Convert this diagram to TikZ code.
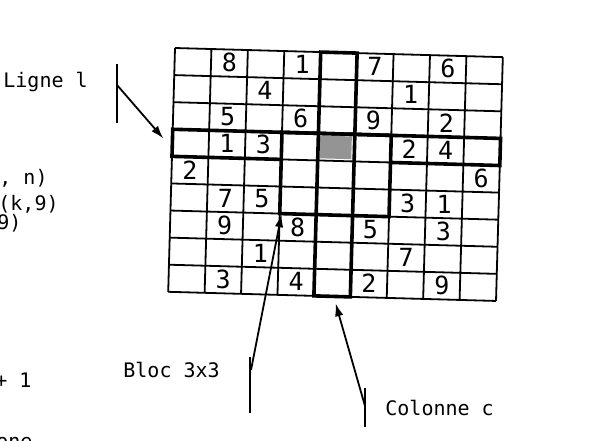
\documentclass[tikz,border=0pt]{standalone}
\usepackage{fontspec}
\setmonofont{DejaVu Sans Mono}
\usepackage{tikz}
\usetikzlibrary{positioning,arrows.meta}

\begin{document}
\begin{tikzpicture}[x=0.5pt,y=-0.5pt,
        cellline/.style={line width=0.9pt},
        boldline/.style={line width=1.8pt},
        digit/.style={font=\ttfamily\fontsize{12.5}{15}\selectfont,inner sep=0pt},
        note/.style={font=\ttfamily\fontsize{10}{12}\selectfont,anchor=base west,inner sep=0pt},
        pointer/.style={line width=0.9pt},
        tip/.style={-{Latex[length=6.5pt,width=4.2pt]}}]
        \fill[white] (0,0) rectangle (614,440);
        \useasboundingbox (0,0) rectangle (614,440);
        % grille 9x9, un peu tournee
        \begin{scope}[shift={(175,48)},rotate=-1.6,x=18.22pt,y=-13.55pt]
            \fill[black!42] (4.05,3.08) rectangle (4.92,3.92);
            \foreach \i in {0,...,9} {
                \draw[cellline] (\i,0)--(\i,9);
                \draw[cellline] (0,\i)--(9,\i);
            }
            \draw[boldline] (3,4)--(0,4)--(0,3)--(9,3)--(9,4)--(6,4);
            \draw[boldline] (4,0) rectangle (5,9);
            \draw[boldline] (3,3) rectangle (6,6);
            \foreach \r/\c/\v in {1/2/8,1/4/1,1/6/7,1/8/6,2/3/4,2/7/1,3/2/5,3/4/6,3/6/9,3/8/2,
                    4/2/1,4/3/3,4/7/2,4/8/4,5/1/2,5/9/6,6/2/7,6/3/5,6/7/3,6/8/1,
                    7/2/9,7/4/8,7/6/5,7/8/3,8/3/1,8/7/7,9/2/3,9/4/4,9/6/2,9/8/9}
                \node[digit] (d\r\c) at (\c-0.5,\r-0.52) {\v};
            \coordinate (ligneTip) at (-0.25,3.35);
            \coordinate (blocTip) at (3.05,6.02);
            \coordinate (colTip) at (4.6,9.25);
        \end{scope}
        % textes
        \node[note] (ligne) at (3,87) {Ligne l};
        \node[note] (frag1) at (-1,184) {, n)};
        \node[note] (frag2) at (-2,210) {(k,9)};
        \node[note] (frag3) at (-3,229) {9)};
        \node[note] (frag4) at (-5,387) {+ 1};
        \node[note] (frag5) at (-4,448) {one};
        \node[note] (bloc) at (123,377) {Bloc 3x3};
        \node[note] (colonne) at (385,415) {Colonne c};
        % fleches
        \coordinate (ligneA) at (117,64);
        \coordinate (ligneB) at (117,123);
        \coordinate (ligneK) at (117,85);
        \coordinate (blocA) at (250,357);
        \coordinate (blocB) at (250,413);
        \coordinate (blocK) at (251,370);
        \coordinate (colA) at (365,388);
        \coordinate (colB) at (365,427);
        \coordinate (colK) at (365,406);
        \draw[pointer] (ligneA)--(ligneB);
        \draw[pointer,tip] (ligneK)--(ligneTip);
        \draw[pointer] (blocA)--(blocB);
        \draw[pointer,tip] (blocK)--(blocTip);
        \draw[pointer] (colA)--(colB);
        \draw[pointer,tip] (colK)--(colTip);
\end{tikzpicture}
\end{document}
